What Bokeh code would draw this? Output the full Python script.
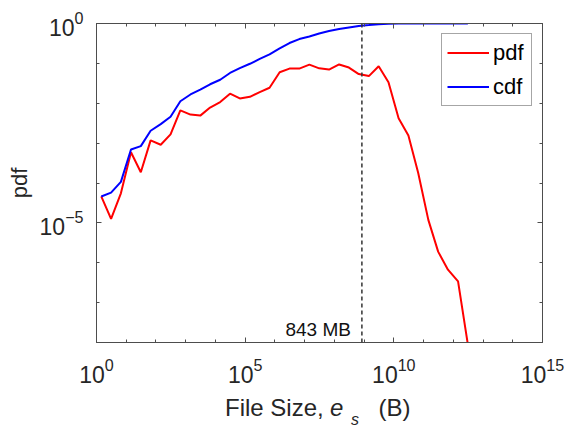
from bokeh.plotting import figure
from bokeh.layouts import column
from bokeh.models import (FixedTicker, LogAxis, Span, Label, Legend, LegendItem,
                          CustomJSTickFormatter, Div)
from bokeh.embed import file_html
from bokeh.resources import INLINE

# ---- data ----
x_exponent = [0.16, 0.49, 0.82, 1.16, 1.49, 1.82, 2.16, 2.49, 2.82, 3.16,
              3.49, 3.82, 4.16, 4.49, 4.82, 5.16, 5.49, 5.82, 6.16, 6.49,
              6.82, 7.16, 7.49, 7.82, 8.16, 8.49, 8.82, 9.16, 9.49, 9.82,
              10.16, 10.49, 10.82, 11.16, 11.49, 11.82, 12.16, 12.49]
pdf = [4.6e-5, 1.26e-5, 5.5e-5, 5.9e-4, 1.86e-4, 1.17e-3, 9.1e-4, 1.66e-3, 6.6e-3, 5.2e-3,
       4.9e-3, 7.8e-3, 1.07e-2, 1.74e-2, 1.32e-2, 1.45e-2, 1.9e-2, 2.45e-2, 6.0e-2, 7.4e-2,
       7.4e-2, 9.3e-2, 7.5e-2, 7.0e-2, 9.4e-2, 7.85e-2, 5.4e-2, 4.8e-2, 8.5e-2, 3.35e-2,
       4.2e-3, 1.55e-3, 1.78e-4, 1.19e-5, 1.9e-6, 6.7e-7, 3.4e-7, 8.9e-9]
cdf = [4.6e-5, 5.75e-5, 1.07e-4, 6.9e-4, 8.4e-4, 2.04e-3, 2.99e-3, 4.57e-3, 1.12e-2, 1.66e-2,
       2.19e-2, 2.99e-2, 3.89e-2, 5.75e-2, 7.59e-2, 9.77e-2, 0.129, 0.168, 0.237, 0.324,
       0.407, 0.473, 0.562, 0.646, 0.724, 0.794, 0.871, 0.912, 0.955, 0.982,
       0.993, 0.997, 0.999, 0.9995, 0.9998, 0.9999, 0.99995, 0.99998]
threshold_bytes = 8.43e8
threshold_label = "843 MB"
x_major = [1e0, 1e5, 1e10, 1e15]
x_minor = [10.0 ** i for i in range(0, 16)]
y_major = [1e-5, 1e0]
y_minor = [10.0 ** i for i in range(-8, 1)]

x = [10.0 ** e for e in x_exponent]

FONT = "Liberation Sans"
AX = "#4d4d4d"
TXT = "#262626"
W = 569

p = figure(width=W, height=395, x_axis_type="log", y_axis_type="log",
           x_range=(1, 1e15), y_range=(1e-8, 1),
           output_backend="svg", toolbar_location=None,
           min_border_left=96, min_border_right=27, min_border_top=23, min_border_bottom=53)
p.grid.visible = False
p.outline_line_color = None
p.background_fill_color = "white"
p.border_fill_color = "white"


def style(ax, major, minor, labels=True):
    ax.ticker = FixedTicker(ticks=major, minor_ticks=minor)
    ax.axis_line_color = AX
    ax.axis_line_width = 1
    ax.major_tick_in = 5
    ax.major_tick_out = 0
    ax.minor_tick_in = 3
    ax.minor_tick_out = 0
    ax.major_tick_line_color = AX
    ax.minor_tick_line_color = AX
    ax.major_label_text_font = FONT
    ax.major_label_text_color = TXT
    ax.major_label_text_font_size = "23px"
    if not labels:
        ax.formatter = CustomJSTickFormatter(code="return '';")
        ax.major_label_standoff = 0


style(p.xaxis[0], x_major, x_minor)
p.xaxis[0].major_label_standoff = 15
style(p.yaxis[0], y_major, y_minor)
p.yaxis[0].major_label_standoff = 13
p.yaxis[0].axis_label = "pdf"
p.yaxis[0].axis_label_text_font = FONT
p.yaxis[0].axis_label_text_font_size = "22px"
p.yaxis[0].axis_label_text_font_style = "normal"
p.yaxis[0].axis_label_text_color = TXT
p.yaxis[0].axis_label_standoff = 5

top = LogAxis()
style(top, x_major, x_minor, labels=False)
p.add_layout(top, "above")
right = LogAxis()
style(right, y_major, y_minor, labels=False)
p.add_layout(right, "right")

r_pdf = p.line(x, pdf, line_color="#ff0000", line_width=2)
r_cdf = p.line(x, cdf, line_color="#0000ff", line_width=2)

p.add_layout(Span(location=threshold_bytes, dimension="height", line_color="#333333",
                  line_width=1.5, line_dash="4 3"))
p.add_layout(Label(x=threshold_bytes, y=13, x_units="data", y_units="screen",
                   text=threshold_label, text_align="right", text_baseline="alphabetic",
                   x_offset=-11, text_font=FONT, text_font_size="19px", text_color="#111111"))

legend = Legend(items=[LegendItem(label="pdf", renderers=[r_pdf]),
                       LegendItem(label="cdf", renderers=[r_cdf])],
                location="top_right", margin=10, padding=5, spacing=7,
                glyph_width=42, glyph_height=27, label_standoff=4, label_width=33,
                label_text_font=FONT, label_text_font_size="22px", label_text_color="#000000",
                border_line_color=AX, border_line_width=1, background_fill_color="white",
                background_fill_alpha=1)
p.add_layout(legend)

# ---- x axis title: "File Size, e_s (B)" with italic e and italic subscript s ----
xlabel_html = (
    '<div style="position:relative;width:569px;height:34px;'
    "font-family:'Liberation Sans',Arial,sans-serif;color:#262626;\">"
    '<span style="position:absolute;left:225px;top:1px;font-size:24px;line-height:24px;'
    'white-space:nowrap;">File Size,</span>'
    '<span style="position:absolute;left:330px;top:1px;font-size:24px;line-height:24px;'
    'font-style:italic;">e</span>'
    '<span style="position:absolute;left:351px;top:17px;font-size:16px;line-height:16px;'
    'font-style:italic;">s</span>'
    '<span style="position:absolute;left:378.5px;top:1px;font-size:24px;line-height:24px;'
    'white-space:nowrap;">(B)</span>'
    '</div>'
)
xlabel = Div(text=xlabel_html, width=W, height=34, margin=(0, 0, 0, 0))

layout = column(p, xlabel, spacing=0)
open("out.html", "w").write(file_html(layout, INLINE))
